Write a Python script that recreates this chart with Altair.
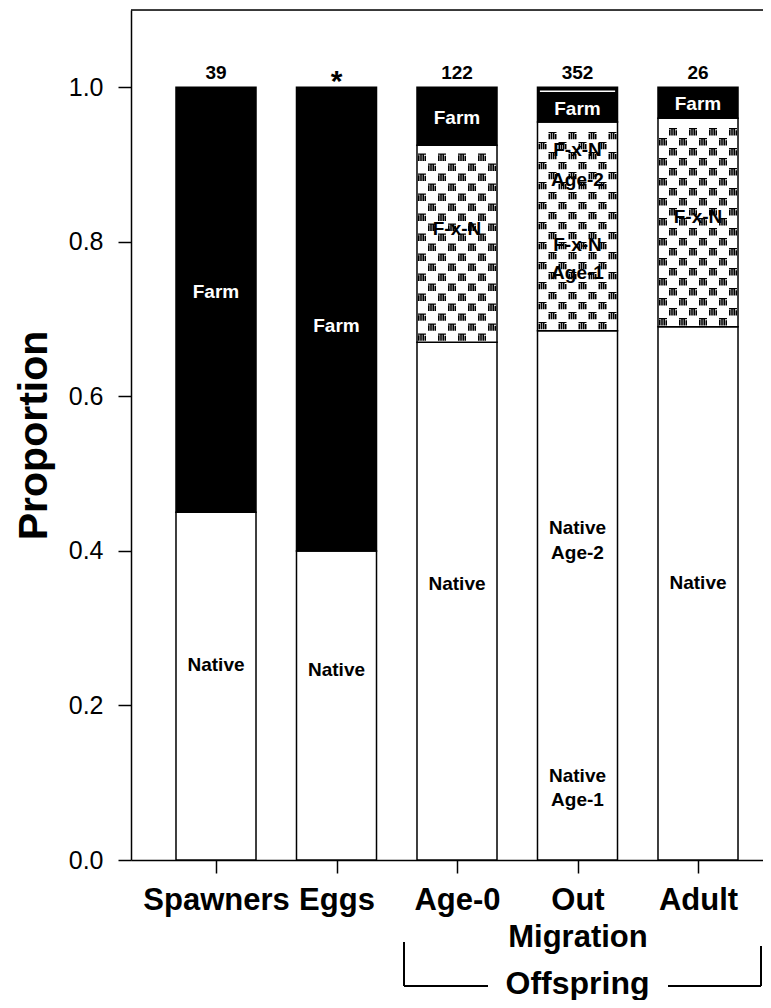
import json
import altair as alt
import pandas as pd

# ---------------- data ----------------
bar_names = ["Spawners", "Eggs", "Age-0", "Out Migration", "Adult"]
axis_labels = ["Spawners", "Eggs", "Age-0", ["Out", "Migration"], "Adult"]
native = [0.45, 0.40, 0.67, 0.685, 0.69]
fxn = [0.0, 0.0, 0.255, 0.27, 0.27]
farm = [0.55, 0.60, 0.075, 0.045, 0.04]
sample_sizes = ["39", "*", "122", "352", "26"]
out_farm_split_bar = 4
out_farm_split = 0.995

label_bar = [1, 1, 2, 2, 3, 3, 3, 4, 4, 4, 4, 4, 4, 4, 4, 4, 5, 5, 5]
label_text = ["Farm", "Native", "Farm", "Native", "Farm", "F-x-N", "Native",
              "Farm", "F-x-N", "Age-2", "F-x-N", "Age-1", "Native", "Age-2",
              "Native", "Age-1", "Farm", "F-x-N", "Native"]
label_y = [0.735, 0.252, 0.691, 0.246, 0.960, 0.817, 0.357,
           0.972, 0.919, 0.880, 0.796, 0.760, 0.430, 0.397,
           0.109, 0.078, 0.978, 0.832, 0.358]

bracket_from = 3   # Age-0
bracket_to = 5     # Adult
bracket_text = "Offspring"

# ---------------- tables ----------------
seg_rows = []
for i, name in enumerate(bar_names):
    base = 0.0
    for grp, v in (("Native", native[i]), ("FxN", fxn[i]), ("Farm", farm[i])):
        if v > 0:
            seg_rows.append({"pos": i + 1, "bar": name, "grp": grp,
                             "y0": base, "y1": base + v})
            base += v
seg_df = pd.DataFrame(seg_rows)
fxn_df = seg_df[seg_df["grp"] == "FxN"].reset_index(drop=True)

lab_df = pd.DataFrame({"pos": label_bar, "text": label_text, "y": label_y})
lab_df["dark"] = lab_df["text"] == "Farm"

n_df = pd.DataFrame({"pos": list(range(1, len(bar_names) + 1)),
                     "n": sample_sizes, "top": [1.0] * len(bar_names)})
split_df = pd.DataFrame({"pos": [out_farm_split_bar], "y": [out_farm_split]})
brk_df = pd.DataFrame({"a": [bracket_from], "b": [bracket_to],
                       "mid": [(bracket_from + bracket_to) / 2 + 0.0],
                       "text": [bracket_text]})

FONT = "Liberation Sans"
HALF = 0.332
XDOM = [0.2946, 5.5394]
W, H = 632, 850

xs = alt.Scale(domain=XDOM, nice=False, zero=False)
ys = alt.Scale(domain=[0, 1.1], nice=False, zero=False)

label_expr = json.dumps(axis_labels) + "[datum.value - 1]"

x_axis = alt.Axis(values=[1, 2, 3, 4, 5], labelExpr=label_expr, title=None,
                  grid=False, tickSize=13, labelPadding=12, labelFontSize=31,
                  labelFontWeight="bold", labelLineHeight=37, labelBaseline="top",
                  labelOverlap=False, labelFont=FONT, labelColor="black",
                  domainColor="black", tickColor="black", domainWidth=1.5,
                  tickWidth=1.5)
y_axis = alt.Axis(values=[0, 0.2, 0.4, 0.6, 0.8, 1.0], format=".1f",
                  title="Proportion", grid=False, tickSize=13, labelPadding=15,
                  labelFontSize=25, labelFont=FONT, labelColor="black",
                  titleFont=FONT, titleFontSize=41, titleFontWeight="bold",
                  titleColor="black", titleX=-97, titleY=H / 2, titleAngle=270,
                  titleBaseline="middle", titleAlign="center",
                  domainColor="black", tickColor="black", domainWidth=1.5,
                  tickWidth=1.5)

bars = alt.Chart(seg_df).transform_calculate(
    xl=f"datum.pos - {HALF}", xr=f"datum.pos + {HALF}"
).mark_rect(stroke="black", strokeWidth=1.5).encode(
    x=alt.X("xl:Q", scale=xs, axis=x_axis),
    x2="xr:Q",
    y=alt.Y("y0:Q", scale=ys, axis=y_axis),
    y2="y1:Q",
    fill=alt.Fill("grp:N", scale=alt.Scale(domain=["Native", "FxN", "Farm"],
                                            range=["white", "white", "black"]),
                  legend=None),
)

# checker hatch texture for the F x N segments
glyph = ("M-1,-0.5h0.4v1.4h-0.4z M-0.45,-0.95h0.4v1.85h-0.4z "
         "M0.1,-0.7h0.4v1.6h-0.4z M0.62,-0.4h0.38v1.3h-0.38z "
         "M-1,-0.95h2v0.3h-2z")
ROW = 0.01294
COL = 0.083
pattern = alt.Chart(fxn_df).transform_calculate(
    rows=f"sequence(0, floor((datum.y1 - datum.y0) / {ROW}))"
).transform_flatten(["rows"], as_=["row"]).transform_calculate(
    cols="sequence(0, 8)"
).transform_flatten(["cols"], as_=["col"]).transform_filter(
    "(datum.row + datum.col) % 2 == 0"
).transform_calculate(
    px=f"datum.pos - {HALF} + (datum.col + 0.5) * {COL}",
    py=f"datum.y0 + (datum.row + 0.5) * {ROW}",
).mark_point(shape=glyph, filled=True, size=64, color="black", opacity=1,
             strokeWidth=0).encode(
    x=alt.X("px:Q", scale=xs), y=alt.Y("py:Q", scale=ys)
)

split = alt.Chart(split_df).transform_calculate(
    xl=f"datum.pos - {HALF - 0.02}", xr=f"datum.pos + {HALF - 0.02}"
).mark_rule(color="white", strokeWidth=1.5).encode(
    x=alt.X("xl:Q", scale=xs), x2="xr:Q", y=alt.Y("y:Q", scale=ys)
)

labels = alt.Chart(lab_df).mark_text(
    font=FONT, fontSize=19, fontWeight="bold", baseline="middle", align="center"
).encode(
    x=alt.X("pos:Q", scale=xs), y=alt.Y("y:Q", scale=ys), text="text:N",
    color=alt.Color("dark:N", scale=alt.Scale(domain=[True, False],
                                              range=["white", "black"]),
                    legend=None),
)

ns = alt.Chart(n_df).transform_filter("datum.n != '*'").mark_text(
    font=FONT, fontSize=19, fontWeight="bold", baseline="alphabetic",
    align="center", dy=-8, color="black"
).encode(x=alt.X("pos:Q", scale=xs), y=alt.Y("top:Q", scale=ys), text="n:N")

star = alt.Chart(n_df).transform_filter("datum.n == '*'").mark_text(
    font=FONT, fontSize=30, fontWeight="bold", baseline="alphabetic",
    align="center", dy=4, color="black"
).encode(x=alt.X("pos:Q", scale=xs), y=alt.Y("top:Q", scale=ys), text="n:N")

top_line = alt.Chart(n_df.head(1)).mark_rule(color="black", strokeWidth=1.5).encode(
    y=alt.datum(1.1, scale=ys)
)

# bracket under the offspring groups
BY = 976
left_v = alt.Chart(brk_df).mark_rule(color="black", strokeWidth=2, xOffset=-53).encode(
    x=alt.X("a:Q", scale=xs), y=alt.value(932), y2=alt.value(BY))
right_v = alt.Chart(brk_df).mark_rule(color="black", strokeWidth=2, xOffset=63).encode(
    x=alt.X("b:Q", scale=xs), y=alt.value(936), y2=alt.value(BY))
left_h = alt.Chart(brk_df).mark_rule(color="black", strokeWidth=2, xOffset=-53,
                                     x2Offset=31).encode(
    x=alt.X("a:Q", scale=xs), x2="a:Q", y=alt.value(BY))
right_h = alt.Chart(brk_df).mark_rule(color="black", strokeWidth=2, xOffset=-30,
                                      x2Offset=63).encode(
    x=alt.X("b:Q", scale=xs), x2="b:Q", y=alt.value(BY))
brk_text = alt.Chart(brk_df).mark_text(
    font=FONT, fontSize=32, fontWeight="bold", baseline="alphabetic",
    align="center", color="black"
).encode(x=alt.X("mid:Q", scale=xs), y=alt.value(BY + 8), text="text:N")

chart = alt.layer(
    bars, pattern, split, labels, ns, star, top_line,
    left_v, right_v, left_h, right_h, brk_text
).properties(
    width=W, height=H,
    autosize=alt.AutoSizeParams(type="none"),
    padding={"left": 123, "top": 2, "right": 0, "bottom": 140},
).configure_view(stroke=None).configure(background="white")

chart.save("out.html", embed_options={"renderer": "svg", "actions": False})
